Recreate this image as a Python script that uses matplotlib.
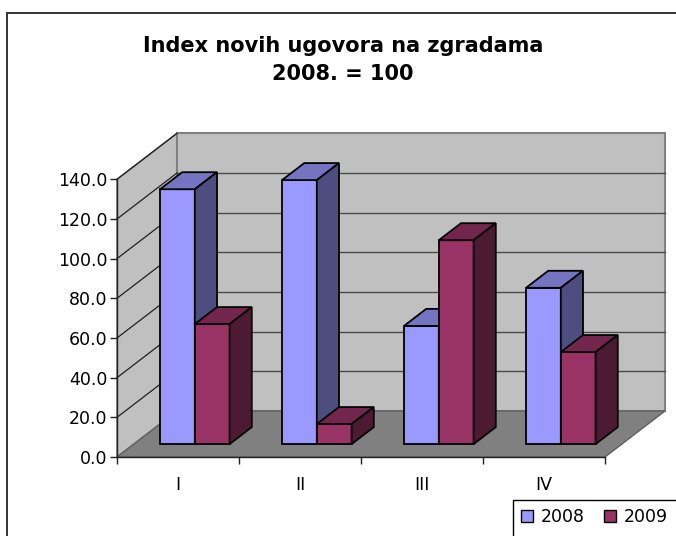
import matplotlib
matplotlib.use('Agg')
import matplotlib.pyplot as plt
from matplotlib.patches import Polygon, Patch, Rectangle

# data
categories = ['I', 'II', 'III', 'IV']
idx_2008 = [128.5, 133.1, 59.6, 78.8]
idx_2009 = [60.5, 10.1, 102.8, 46.4]
series_names = ['2008', '2009']
yticks = [0, 20, 40, 60, 80, 100, 120, 140]

# face colours: front, top, side
col_2008 = ('#9999FF', '#7474C0', '#4D4D80')
col_2009 = ('#993366', '#73264D', '#4D1A33')

fig = plt.figure(figsize=(6.76, 5.36), dpi=100)
ax = fig.add_axes([117 / 676, 1 - 457 / 536, 488 / 676, (457 - 179.3) / 536])
ax.set_xlim(0, 4)
ax.set_ylim(0, 140)
ax.patch.set_visible(False)

# oblique depth of the plot box, in data units
DX = 60 / 122
DY = 46 * 140 / (457 - 179.3)

# walls and floor
side_wall = Polygon([(0, 0), (0, 140), (DX, 140 + DY), (DX, DY)],
                    fc='#C0C0C0', ec='#808080', lw=1.2, clip_on=False, zorder=0.5)
back_wall = Polygon([(DX, DY), (4 + DX, DY), (4 + DX, 140 + DY), (DX, 140 + DY)],
                    fc='#C0C0C0', ec='#808080', lw=1.5, clip_on=False, zorder=0.5)
floor = Polygon([(0, 0), (4, 0), (4 + DX, DY), (DX, DY)],
                fc='#808080', ec='#606060', lw=1.0, clip_on=False, zorder=0.55)
for p in (side_wall, back_wall, floor):
    ax.add_patch(p)

for v in yticks[1:-1]:
    ax.plot([DX, 4 + DX], [v + DY, v + DY], color='#4a4a4a', lw=1.0,
            clip_on=False, zorder=0.6)
for v in yticks[1:]:
    ax.plot([0, DX], [v, v + DY], color='#202020', lw=0.9,
            clip_on=False, zorder=0.6)

# bars
f0 = 0.28     # depth position of bar front face
fd = 0.37     # bar depth
bw = 0.285
off = 0.215
ddx, ddy = fd * DX, fd * DY
z = 2
for i in range(len(categories)):
    for j, (vals, cols) in enumerate([(idx_2008, col_2008), (idx_2009, col_2009)]):
        x0 = i + off + j * bw + f0 * DX
        y0 = f0 * DY
        h = vals[i]
        ax.bar(x0, h, width=bw, bottom=y0, align='edge', facecolor=cols[0],
               edgecolor='black', lw=1.3, clip_on=False, zorder=z)
        top = Polygon([(x0, y0 + h), (x0 + bw, y0 + h),
                       (x0 + bw + ddx, y0 + h + ddy), (x0 + ddx, y0 + h + ddy)],
                      fc=cols[1], ec='black', lw=1.3, clip_on=False, zorder=z)
        side = Polygon([(x0 + bw, y0), (x0 + bw + ddx, y0 + ddy),
                        (x0 + bw + ddx, y0 + h + ddy), (x0 + bw, y0 + h)],
                       fc=cols[2], ec='black', lw=1.3, clip_on=False, zorder=z)
        ax.add_patch(top)
        ax.add_patch(side)
        z += 0.1

# axes
for s in ('top', 'right'):
    ax.spines[s].set_visible(False)
for s in ('left', 'bottom'):
    ax.spines[s].set_color('#222222')
    ax.spines[s].set_linewidth(1.0)

ax.set_yticks(yticks)
ax.set_yticklabels([f'{v:.1f}' for v in yticks])
ax.set_xticks([0, 1, 2, 3, 4])
ax.set_xticklabels([])
ax.set_xticks([0.5, 1.5, 2.5, 3.5], minor=True)
ax.set_xticklabels(categories, minor=True)
ax.tick_params(axis='y', length=5, width=1, pad=2, labelsize=12.5, color='#222222')
ax.tick_params(axis='x', which='major', length=5, width=1, color='#222222')
ax.tick_params(axis='x', which='minor', length=0, pad=14, labelsize=12.5)

# title
fig.text(343 / 676, 1 - 60 / 536, 'Index novih ugovora na zgradama\n2008. = 100',
         ha='center', va='center', fontsize=15, fontweight='bold', linespacing=1.55)

# legend (its box runs off the bottom-right edge, as in the original)
handles = [Patch(facecolor=col_2008[0], edgecolor='black'),
           Patch(facecolor=col_2009[0], edgecolor='black')]
fig.legend(handles, series_names, ncol=2, loc='upper left',
           bbox_to_anchor=(513 / 676, 1 - 500 / 536), borderaxespad=0,
           fontsize=12.5, frameon=False,
           handlelength=0.7, handleheight=0.7, handletextpad=0.45,
           columnspacing=1.1, borderpad=0.45)
fig.patches.append(Rectangle((513 / 676, -0.05), 0.5, 0.05 + 36 / 536,
                             transform=fig.transFigure, fill=False,
                             ec='black', lw=1.0))

# chart area border
fig.patches.append(Rectangle((6.5 / 676, -0.05), 1.1, 1.05 - 13 / 536,
                             transform=fig.transFigure, fill=False,
                             ec='#333333', lw=1.4))

fig.savefig('out.png', dpi=100)
